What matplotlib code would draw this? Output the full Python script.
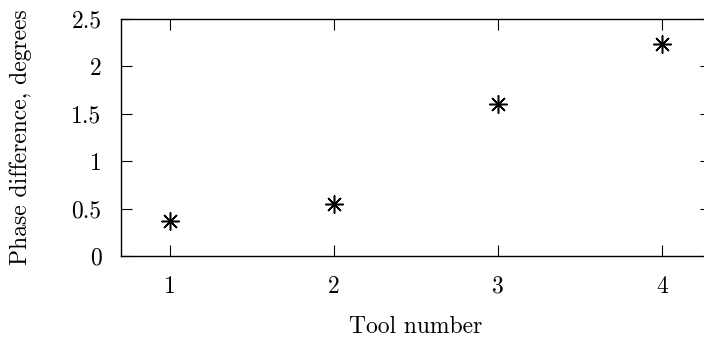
import matplotlib
matplotlib.use("Agg")
import matplotlib.pyplot as plt

plt.rcParams['font.family'] = ['cmr10', 'DejaVu Serif']
plt.rcParams['mathtext.fontset'] = 'cm'
plt.rcParams['axes.formatter.use_mathtext'] = True

# tool number vs measured phase difference
tools = [1, 2, 3, 4]
phase_deg = [0.37, 0.55, 1.60, 2.24]
yticks = [0, 0.5, 1, 1.5, 2, 2.5]
ytick_labels = ['0', '0.5', '1', '1.5', '2', '2.5']

fig = plt.figure(figsize=(7.04, 3.42), dpi=100)
ax = fig.add_axes([121 / 704, 1 - 256 / 342, 590 / 704, 237 / 342])

ax.plot(tools, phase_deg, linestyle='none', marker=(8, 2, 0),
        markersize=13, markeredgewidth=1.1, color='black')

ax.set_xlim(0.7, 4.3)
ax.set_ylim(0, 2.5)
ax.set_xticks(tools)
ax.set_xticklabels([str(t) for t in tools])
ax.set_yticks(yticks)
ax.set_yticklabels(ytick_labels)
ax.tick_params(direction='in', length=8, width=0.8, top=True, right=True,
               labelsize=17)
ax.tick_params(axis='x', pad=14)
ax.tick_params(axis='y', pad=14)
for s in ax.spines.values():
    s.set_linewidth(1.0)

ax.set_xlabel('Tool number', fontsize=17, labelpad=13)
ax.set_ylabel('Phase difference, degrees', fontsize=17, labelpad=28)

fig.savefig('out.png', dpi=100)
